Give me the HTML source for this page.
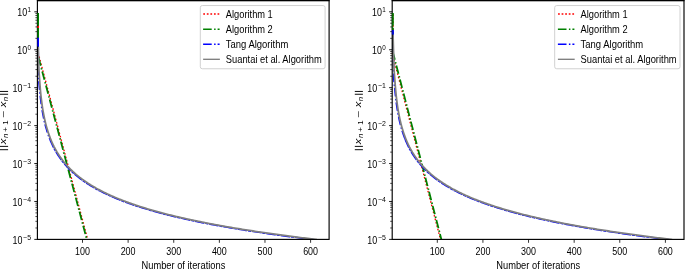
<!DOCTYPE html>
<html><head><meta charset="utf-8"><title>Convergence plots</title>
<style>
html,body{margin:0;padding:0;background:#fff;}
body{width:685px;height:269px;overflow:hidden;font-family:"Liberation Sans",sans-serif;}
#wrap{width:685px;height:269px;overflow:hidden;will-change:transform;}
svg{display:block;}
text{font-family:"Liberation Sans",sans-serif;fill:#000;}
</style></head><body>
<div id="wrap">
<svg width="685" height="269" viewBox="0 0 685 269">
<g>
<clipPath id="clip0"><rect x="36.9" y="0.5" width="292.20000000000005" height="238.9"/></clipPath>
<g stroke="#000" fill="none">
<path d="M34.30,239.40H37.4" stroke-width="0.9"/>
<path d="M35.40,227.98H37.4" stroke-width="0.7"/>
<path d="M35.40,221.30H37.4" stroke-width="0.7"/>
<path d="M35.40,216.56H37.4" stroke-width="0.7"/>
<path d="M35.40,212.89H37.4" stroke-width="0.7"/>
<path d="M35.40,209.88H37.4" stroke-width="0.7"/>
<path d="M35.40,207.35H37.4" stroke-width="0.7"/>
<path d="M35.40,205.15H37.4" stroke-width="0.7"/>
<path d="M35.40,203.21H37.4" stroke-width="0.7"/>
<path d="M34.30,201.47H37.4" stroke-width="0.9"/>
<path d="M35.40,190.05H37.4" stroke-width="0.7"/>
<path d="M35.40,183.37H37.4" stroke-width="0.7"/>
<path d="M35.40,178.63H37.4" stroke-width="0.7"/>
<path d="M35.40,174.96H37.4" stroke-width="0.7"/>
<path d="M35.40,171.95H37.4" stroke-width="0.7"/>
<path d="M35.40,169.42H37.4" stroke-width="0.7"/>
<path d="M35.40,167.22H37.4" stroke-width="0.7"/>
<path d="M35.40,165.28H37.4" stroke-width="0.7"/>
<path d="M34.30,163.54H37.4" stroke-width="0.9"/>
<path d="M35.40,152.12H37.4" stroke-width="0.7"/>
<path d="M35.40,145.44H37.4" stroke-width="0.7"/>
<path d="M35.40,140.70H37.4" stroke-width="0.7"/>
<path d="M35.40,137.03H37.4" stroke-width="0.7"/>
<path d="M35.40,134.02H37.4" stroke-width="0.7"/>
<path d="M35.40,131.49H37.4" stroke-width="0.7"/>
<path d="M35.40,129.29H37.4" stroke-width="0.7"/>
<path d="M35.40,127.35H37.4" stroke-width="0.7"/>
<path d="M34.30,125.61H37.4" stroke-width="0.9"/>
<path d="M35.40,114.19H37.4" stroke-width="0.7"/>
<path d="M35.40,107.51H37.4" stroke-width="0.7"/>
<path d="M35.40,102.77H37.4" stroke-width="0.7"/>
<path d="M35.40,99.10H37.4" stroke-width="0.7"/>
<path d="M35.40,96.09H37.4" stroke-width="0.7"/>
<path d="M35.40,93.56H37.4" stroke-width="0.7"/>
<path d="M35.40,91.36H37.4" stroke-width="0.7"/>
<path d="M35.40,89.42H37.4" stroke-width="0.7"/>
<path d="M34.30,87.68H37.4" stroke-width="0.9"/>
<path d="M35.40,76.26H37.4" stroke-width="0.7"/>
<path d="M35.40,69.58H37.4" stroke-width="0.7"/>
<path d="M35.40,64.84H37.4" stroke-width="0.7"/>
<path d="M35.40,61.17H37.4" stroke-width="0.7"/>
<path d="M35.40,58.16H37.4" stroke-width="0.7"/>
<path d="M35.40,55.63H37.4" stroke-width="0.7"/>
<path d="M35.40,53.43H37.4" stroke-width="0.7"/>
<path d="M35.40,51.49H37.4" stroke-width="0.7"/>
<path d="M34.30,49.75H37.4" stroke-width="0.9"/>
<path d="M35.40,38.33H37.4" stroke-width="0.7"/>
<path d="M35.40,31.65H37.4" stroke-width="0.7"/>
<path d="M35.40,26.91H37.4" stroke-width="0.7"/>
<path d="M35.40,23.24H37.4" stroke-width="0.7"/>
<path d="M35.40,20.23H37.4" stroke-width="0.7"/>
<path d="M35.40,17.70H37.4" stroke-width="0.7"/>
<path d="M35.40,15.50H37.4" stroke-width="0.7"/>
<path d="M35.40,13.56H37.4" stroke-width="0.7"/>
<path d="M34.30,11.82H37.4" stroke-width="0.9"/>
<path d="M82.50,239.4V242.80" stroke-width="0.8"/>
<path d="M128.12,239.4V242.80" stroke-width="0.8"/>
<path d="M173.74,239.4V242.80" stroke-width="0.8"/>
<path d="M219.36,239.4V242.80" stroke-width="0.8"/>
<path d="M264.98,239.4V242.80" stroke-width="0.8"/>
<path d="M310.60,239.4V242.80" stroke-width="0.8"/>
</g>
<g clip-path="url(#clip0)" fill="none" stroke-width="1.5" stroke-linejoin="round">
<path d="M38.25,13.02V56.52" stroke="#ff0000" stroke-dasharray="1.75 1.82" stroke-dashoffset="-1.2"/>
<path d="M38.25,13.02V56.52" stroke="#008000" stroke-dasharray="12.5 2.5 30 2.5"/>
<path d="M39.10,56.52L87.67,239.4" stroke="#ff0000" stroke-width="1.35" stroke-dasharray="1.6 1.97"/>
<path d="M38.25,56.52L86.82,239.4" stroke="#008000" stroke-width="1.8" stroke-dasharray="8.6 2.4 1.5 2.0" stroke-dashoffset="13.5"/>
<path d="M38.25,37.80 L38.45,78.00 L39.65,90.46 L40.11,95.14 L40.57,99.23 L41.02,102.87 L41.48,106.15 L41.94,109.13 L42.39,111.86 L42.85,114.39 L43.30,116.73 L43.76,118.92 L44.22,120.97 L44.67,122.90 L45.13,124.73 L45.59,126.46 L46.04,128.10 L46.50,129.66 L46.95,131.16 L47.41,132.59 L47.87,133.96 L48.32,135.27 L48.78,136.53 L49.24,137.75 L49.69,138.93" stroke="#0000ff" stroke-dasharray="8.6 2.4 1.5 2.0"/>
<path d="M49.69,138.93 L50.15,140.06 L50.60,141.16 L51.06,142.22 L51.52,143.24 L51.97,144.24 L52.43,145.21 L52.88,146.15 L53.34,147.06 L53.80,147.95 L54.25,148.82 L54.71,149.66 L55.17,150.48 L55.62,151.29 L56.08,152.07 L56.53,152.83 L56.99,153.58 L57.45,154.31 L57.90,155.03 L58.36,155.73 L58.82,156.41 L59.27,157.09 L59.73,157.74 L60.18,158.39 L60.64,159.02 L61.10,159.64 L61.55,160.25 L62.01,160.85 L62.46,161.44 L62.92,162.02 L63.38,162.58 L63.83,163.14 L64.29,163.69 L64.75,164.23 L65.20,164.76 L66.11,165.80 L67.03,166.80 L67.94,167.78 L68.85,168.72 L69.76,169.65 L70.68,170.54 L71.59,171.41 L72.50,172.26 L73.41,173.09 L74.33,173.90 L75.24,174.69 L76.15,175.46 L77.06,176.21 L77.98,176.95 L78.89,177.67 L79.80,178.37 L80.71,179.06 L81.63,179.73 L82.54,180.40 L83.45,181.05 L84.36,181.68 L85.27,182.31 L86.19,182.92 L87.10,183.52 L88.01,184.11 L88.92,184.69 L89.84,185.26 L90.75,185.82 L91.66,186.37 L92.57,186.91 L93.49,187.45 L94.40,187.97 L95.31,188.49 L96.22,189.00 L97.14,189.50 L98.05,189.99 L98.96,190.48 L99.87,190.96 L100.79,191.43 L101.70,191.89 L102.61,192.35 L103.52,192.81 L104.44,193.25 L105.35,193.69 L106.26,194.13 L107.17,194.56 L108.08,194.98 L109.00,195.40 L109.91,195.81 L110.82,196.22 L111.73,196.62 L112.65,197.02 L113.56,197.41 L114.47,197.80 L115.38,198.19 L116.30,198.57 L117.21,198.94 L118.12,199.31 L119.03,199.68 L119.95,200.04 L120.86,200.40 L121.77,200.76 L122.68,201.11 L123.60,201.46 L124.51,201.80 L125.42,202.14 L126.33,202.48 L127.25,202.81 L128.16,203.14 L129.07,203.47 L130.89,204.11 L132.72,204.74 L134.54,205.36 L136.37,205.97 L138.19,206.57 L140.02,207.16 L141.84,207.73 L143.67,208.30 L145.49,208.86 L147.32,209.40 L149.14,209.94 L150.97,210.47 L152.79,211.00 L154.62,211.51 L156.44,212.02 L158.27,212.51 L160.09,213.00 L161.92,213.49 L163.74,213.96 L165.57,214.43 L167.39,214.90 L169.22,215.35 L171.04,215.80 L172.87,216.25 L174.69,216.69 L176.51,217.12 L178.34,217.55 L180.16,217.97 L181.99,218.38 L183.81,218.80 L185.64,219.20 L187.46,219.60 L189.29,220.00 L191.11,220.39 L192.94,220.78 L194.76,221.16 L196.59,221.54 L198.41,221.91 L200.24,222.28 L202.06,222.65 L203.89,223.01 L205.71,223.37 L207.54,223.72 L209.36,224.07 L211.19,224.42 L213.01,224.76 L214.84,225.10 L216.66,225.43 L218.49,225.77 L220.31,226.10 L222.13,226.42 L223.96,226.74 L225.78,227.06 L227.61,227.38 L229.43,227.69 L231.26,228.00 L233.08,228.31 L234.91,228.62 L236.73,228.92 L238.56,229.22 L240.38,229.51 L242.21,229.81 L244.03,230.10 L245.86,230.39 L247.68,230.67 L249.51,230.96 L251.33,231.24 L253.16,231.52 L254.98,231.79 L256.81,232.07 L258.63,232.34 L260.46,232.61 L262.28,232.88 L264.11,233.14 L265.93,233.40 L267.75,233.67 L269.58,233.93 L271.40,234.18 L273.23,234.44 L275.05,234.69 L276.88,234.94 L278.70,235.19 L280.53,235.44 L282.35,235.68 L284.18,235.93 L286.00,236.17 L287.83,236.41 L289.65,236.65 L291.48,236.89 L293.30,237.12 L295.13,237.35 L296.95,237.59 L298.78,237.82 L300.60,238.04 L302.43,238.27 L304.25,238.50 L306.08,238.72 L307.90,238.94 L309.73,239.16 L311.55,239.38 L313.37,239.60" stroke="#0000ff" stroke-dasharray="9.6 0.9 3.1 0.9"/>
<path d="M38.25,46.70 L38.80,69.00 L39.55,79.51 L40.01,85.79 L40.47,91.07 L40.92,95.61 L41.38,99.61 L41.84,103.17 L42.29,106.38 L42.75,109.31 L43.20,112.00 L43.66,114.48 L44.12,116.80 L44.57,118.96 L45.03,120.98 L45.49,122.89 L45.94,124.70 L46.40,126.41 L46.85,128.03 L47.31,129.58 L47.77,131.06 L48.22,132.48 L48.68,133.84 L49.14,135.14 L49.59,136.40 L50.05,137.61 L50.50,138.77 L50.96,139.90 L51.42,140.99 L51.87,142.04 L52.33,143.06 L52.78,144.05 L53.24,145.02 L53.70,145.95 L54.15,146.86 L54.61,147.74 L55.07,148.60 L55.52,149.44 L55.98,150.26 L56.43,151.06 L56.89,151.84 L57.35,152.60 L57.80,153.35 L58.26,154.07 L58.72,154.79 L59.17,155.48 L59.63,156.17 L60.08,156.83 L60.54,157.49 L61.00,158.13 L61.45,158.76 L61.91,159.38 L62.36,159.99 L62.82,160.59 L63.28,161.17 L63.73,161.75 L64.19,162.31 L64.65,162.87 L65.10,163.41 L66.01,164.48 L66.93,165.52 L67.84,166.52 L68.75,167.49 L69.66,168.43 L70.58,169.35 L71.49,170.25 L72.40,171.12 L73.31,171.96 L74.23,172.79 L75.14,173.60 L76.05,174.38 L76.96,175.15 L77.88,175.90 L78.79,176.64 L79.70,177.35 L80.61,178.06 L81.53,178.74 L82.44,179.42 L83.35,180.08 L84.26,180.73 L85.17,181.36 L86.09,181.98 L87.00,182.60 L87.91,183.20 L88.82,183.79 L89.74,184.37 L90.65,184.93 L91.56,185.49 L92.47,186.04 L93.39,186.59 L94.30,187.12 L95.21,187.64 L96.12,188.16 L97.04,188.67 L97.95,189.17 L98.86,189.66 L99.77,190.14 L100.69,190.62 L101.60,191.09 L102.51,191.56 L103.42,192.02 L104.34,192.47 L105.25,192.91 L106.16,193.35 L107.07,193.79 L107.98,194.22 L108.90,194.64 L109.81,195.06 L110.72,195.47 L111.63,195.88 L112.55,196.28 L113.46,196.68 L114.37,197.07 L115.28,197.46 L116.20,197.84 L117.11,198.22 L118.02,198.60 L118.93,198.97 L119.85,199.33 L120.76,199.70 L121.67,200.05 L122.58,200.41 L123.50,200.76 L124.41,201.11 L125.32,201.45 L126.23,201.79 L127.15,202.13 L128.06,202.46 L128.97,202.79 L130.79,203.44 L132.62,204.08 L134.44,204.70 L136.27,205.32 L138.09,205.92 L139.92,206.51 L141.74,207.09 L143.57,207.66 L145.39,208.22 L147.22,208.78 L149.04,209.32 L150.87,209.85 L152.69,210.38 L154.52,210.90 L156.34,211.41 L158.17,211.91 L159.99,212.40 L161.82,212.89 L163.64,213.37 L165.47,213.84 L167.29,214.31 L169.12,214.77 L170.94,215.22 L172.77,215.67 L174.59,216.11 L176.41,216.54 L178.24,216.97 L180.06,217.40 L181.89,217.81 L183.71,218.23 L185.54,218.64 L187.36,219.04 L189.19,219.44 L191.01,219.83 L192.84,220.22 L194.66,220.61 L196.49,220.99 L198.31,221.36 L200.14,221.73 L201.96,222.10 L203.79,222.46 L205.61,222.82 L207.44,223.18 L209.26,223.53 L211.09,223.88 L212.91,224.22 L214.74,224.56 L216.56,224.90 L218.39,225.23 L220.21,225.56 L222.03,225.89 L223.86,226.22 L225.68,226.54 L227.51,226.85 L229.33,227.17 L231.16,227.48 L232.98,227.79 L234.81,228.10 L236.63,228.40 L238.46,228.70 L240.28,229.00 L242.11,229.29 L243.93,229.58 L245.76,229.87 L247.58,230.16 L249.41,230.45 L251.23,230.73 L253.06,231.01 L254.88,231.29 L256.71,231.56 L258.53,231.83 L260.36,232.10 L262.18,232.37 L264.01,232.64 L265.83,232.90 L267.65,233.17 L269.48,233.43 L271.30,233.68 L273.13,233.94 L274.95,234.19 L276.78,234.45 L278.60,234.70 L280.43,234.94 L282.25,235.19 L284.08,235.44 L285.90,235.68 L287.73,235.92 L289.55,236.16 L291.38,236.40 L293.20,236.63 L295.03,236.87 L296.85,237.10 L298.68,237.33 L300.50,237.56 L302.33,237.79 L304.15,238.01 L305.98,238.24 L307.80,238.46 L309.63,238.68 L311.45,238.90 L313.27,239.12 L315.10,239.34 L316.92,239.55" stroke="#808080" stroke-width="1.8"/>
</g>
<rect x="37.4" y="0.5" width="291.70" height="238.9" stroke="#000" stroke-width="1.15" fill="none"/>
<path d="M36.9,0.58H329.60" stroke="#000" stroke-width="1.16" fill="none"/>
<g fill="none" stroke-width="1.6" stroke-opacity="1">
<path d="M38.15,26.02V28.02" stroke="#ff0000"/>
<path d="M38.15,13.02V25.52M38.15,28.02V37.8" stroke="#008000"/>
<path d="M38.15,37.8V46.5" stroke="#0000ff"/>
</g>
<text x="22.4" y="243.50" font-size="10.2" text-anchor="end" textLength="9.9" lengthAdjust="spacingAndGlyphs" >10</text>
<text x="31.0" y="239.50" font-size="7.2" text-anchor="end" textLength="7.9" lengthAdjust="spacingAndGlyphs" >−5</text>
<text x="22.4" y="205.57" font-size="10.2" text-anchor="end" textLength="9.9" lengthAdjust="spacingAndGlyphs" >10</text>
<text x="31.0" y="201.57" font-size="7.2" text-anchor="end" textLength="7.9" lengthAdjust="spacingAndGlyphs" >−4</text>
<text x="22.4" y="167.64" font-size="10.2" text-anchor="end" textLength="9.9" lengthAdjust="spacingAndGlyphs" >10</text>
<text x="31.0" y="163.64" font-size="7.2" text-anchor="end" textLength="7.9" lengthAdjust="spacingAndGlyphs" >−3</text>
<text x="22.4" y="129.71" font-size="10.2" text-anchor="end" textLength="9.9" lengthAdjust="spacingAndGlyphs" >10</text>
<text x="31.0" y="125.71" font-size="7.2" text-anchor="end" textLength="7.9" lengthAdjust="spacingAndGlyphs" >−2</text>
<text x="22.4" y="91.78" font-size="10.2" text-anchor="end" textLength="9.9" lengthAdjust="spacingAndGlyphs" >10</text>
<text x="31.0" y="87.78" font-size="7.2" text-anchor="end" textLength="7.9" lengthAdjust="spacingAndGlyphs" >−1</text>
<text x="27.2" y="53.85" font-size="10.2" text-anchor="end" textLength="9.9" lengthAdjust="spacingAndGlyphs" >10</text>
<text x="31.0" y="49.85" font-size="7.2" text-anchor="end" textLength="3.5" lengthAdjust="spacingAndGlyphs" >0</text>
<text x="27.2" y="15.92" font-size="10.2" text-anchor="end" textLength="9.9" lengthAdjust="spacingAndGlyphs" >10</text>
<text x="31.0" y="11.92" font-size="7.2" text-anchor="end" textLength="3.5" lengthAdjust="spacingAndGlyphs" >1</text>
<text x="82.50" y="255.1" font-size="10.2" text-anchor="middle" textLength="14.9" lengthAdjust="spacingAndGlyphs" >100</text>
<text x="128.12" y="255.1" font-size="10.2" text-anchor="middle" textLength="14.9" lengthAdjust="spacingAndGlyphs" >200</text>
<text x="173.74" y="255.1" font-size="10.2" text-anchor="middle" textLength="14.9" lengthAdjust="spacingAndGlyphs" >300</text>
<text x="219.36" y="255.1" font-size="10.2" text-anchor="middle" textLength="14.9" lengthAdjust="spacingAndGlyphs" >400</text>
<text x="264.98" y="255.1" font-size="10.2" text-anchor="middle" textLength="14.9" lengthAdjust="spacingAndGlyphs" >500</text>
<text x="310.60" y="255.1" font-size="10.2" text-anchor="middle" textLength="14.9" lengthAdjust="spacingAndGlyphs" >600</text>
<text x="141.5" y="268.6" font-size="10.2" text-anchor="start" textLength="83.8" lengthAdjust="spacingAndGlyphs" >Number of iterations</text>
<g stroke="#000" stroke-width="0.95" fill="none">
<path d="M0,149.7H8.1"/>
<path d="M0,146.4H8.1"/>
<path d="M0,94.25H8.1"/>
<path d="M0,91.45H8.1"/>
</g>
<g transform="translate(6.25,151.3) rotate(-90) scale(1,0.83)">
<text x="7.0" y="0.00" font-size="10.3" font-style="italic" textLength="5.6" lengthAdjust="spacingAndGlyphs">x</text>
<text x="13.3" y="2.17" font-size="7.8" font-style="italic">n</text>
<text x="19.2" y="2.29" font-size="8.6">+</text>
<text x="26.6" y="2.17" font-size="7.8">1</text>
<text x="33.9" y="0.00" font-size="10.3" textLength="7.2" lengthAdjust="spacingAndGlyphs">−</text>
<text x="44.0" y="0.00" font-size="10.3" font-style="italic" textLength="5.6" lengthAdjust="spacingAndGlyphs">x</text>
<text x="50.0" y="2.17" font-size="7.8" font-style="italic">n</text>
</g>
<rect x="200.3" y="5.55" width="124.80" height="63.2" rx="2" ry="2" fill="#fff" fill-opacity="0.8" stroke="#cccccc" stroke-width="0.9"/>
<g fill="none" stroke-width="1.5">
<path d="M203.25,14.0H220.3" stroke="#ff0000" stroke-dasharray="1.75 1.82"/>
<path d="M203.1,29.2H219.6" stroke="#008000" stroke-dasharray="8.6 2.4 1.5 2.0"/>
<path d="M203.1,44.2H219.6" stroke="#0000ff" stroke-dasharray="8.6 2.4 1.5 2.0"/>
<path d="M203.1,59.3H219.9" stroke="#808080" stroke-width="1.35"/>
</g>
<text x="225.8" y="18.1" font-size="10.2" text-anchor="start" textLength="47.0" lengthAdjust="spacingAndGlyphs" >Algorithm 1</text>
<text x="225.8" y="33.1" font-size="10.2" text-anchor="start" textLength="47.0" lengthAdjust="spacingAndGlyphs" >Algorithm 2</text>
<text x="225.8" y="47.75" font-size="10.2" text-anchor="start" textLength="62.6" lengthAdjust="spacingAndGlyphs" >Tang Algorithm</text>
<text x="225.8" y="62.85" font-size="10.2" text-anchor="start" textLength="96.0" lengthAdjust="spacingAndGlyphs" >Suantai et al. Algorithm</text>
</g>
<g transform="translate(354.8,0)">
<clipPath id="clip1"><rect x="36.9" y="0.5" width="292.20000000000005" height="238.9"/></clipPath>
<g stroke="#000" fill="none">
<path d="M34.30,239.40H37.4" stroke-width="0.9"/>
<path d="M35.40,227.98H37.4" stroke-width="0.7"/>
<path d="M35.40,221.30H37.4" stroke-width="0.7"/>
<path d="M35.40,216.56H37.4" stroke-width="0.7"/>
<path d="M35.40,212.89H37.4" stroke-width="0.7"/>
<path d="M35.40,209.88H37.4" stroke-width="0.7"/>
<path d="M35.40,207.35H37.4" stroke-width="0.7"/>
<path d="M35.40,205.15H37.4" stroke-width="0.7"/>
<path d="M35.40,203.21H37.4" stroke-width="0.7"/>
<path d="M34.30,201.47H37.4" stroke-width="0.9"/>
<path d="M35.40,190.05H37.4" stroke-width="0.7"/>
<path d="M35.40,183.37H37.4" stroke-width="0.7"/>
<path d="M35.40,178.63H37.4" stroke-width="0.7"/>
<path d="M35.40,174.96H37.4" stroke-width="0.7"/>
<path d="M35.40,171.95H37.4" stroke-width="0.7"/>
<path d="M35.40,169.42H37.4" stroke-width="0.7"/>
<path d="M35.40,167.22H37.4" stroke-width="0.7"/>
<path d="M35.40,165.28H37.4" stroke-width="0.7"/>
<path d="M34.30,163.54H37.4" stroke-width="0.9"/>
<path d="M35.40,152.12H37.4" stroke-width="0.7"/>
<path d="M35.40,145.44H37.4" stroke-width="0.7"/>
<path d="M35.40,140.70H37.4" stroke-width="0.7"/>
<path d="M35.40,137.03H37.4" stroke-width="0.7"/>
<path d="M35.40,134.02H37.4" stroke-width="0.7"/>
<path d="M35.40,131.49H37.4" stroke-width="0.7"/>
<path d="M35.40,129.29H37.4" stroke-width="0.7"/>
<path d="M35.40,127.35H37.4" stroke-width="0.7"/>
<path d="M34.30,125.61H37.4" stroke-width="0.9"/>
<path d="M35.40,114.19H37.4" stroke-width="0.7"/>
<path d="M35.40,107.51H37.4" stroke-width="0.7"/>
<path d="M35.40,102.77H37.4" stroke-width="0.7"/>
<path d="M35.40,99.10H37.4" stroke-width="0.7"/>
<path d="M35.40,96.09H37.4" stroke-width="0.7"/>
<path d="M35.40,93.56H37.4" stroke-width="0.7"/>
<path d="M35.40,91.36H37.4" stroke-width="0.7"/>
<path d="M35.40,89.42H37.4" stroke-width="0.7"/>
<path d="M34.30,87.68H37.4" stroke-width="0.9"/>
<path d="M35.40,76.26H37.4" stroke-width="0.7"/>
<path d="M35.40,69.58H37.4" stroke-width="0.7"/>
<path d="M35.40,64.84H37.4" stroke-width="0.7"/>
<path d="M35.40,61.17H37.4" stroke-width="0.7"/>
<path d="M35.40,58.16H37.4" stroke-width="0.7"/>
<path d="M35.40,55.63H37.4" stroke-width="0.7"/>
<path d="M35.40,53.43H37.4" stroke-width="0.7"/>
<path d="M35.40,51.49H37.4" stroke-width="0.7"/>
<path d="M34.30,49.75H37.4" stroke-width="0.9"/>
<path d="M35.40,38.33H37.4" stroke-width="0.7"/>
<path d="M35.40,31.65H37.4" stroke-width="0.7"/>
<path d="M35.40,26.91H37.4" stroke-width="0.7"/>
<path d="M35.40,23.24H37.4" stroke-width="0.7"/>
<path d="M35.40,20.23H37.4" stroke-width="0.7"/>
<path d="M35.40,17.70H37.4" stroke-width="0.7"/>
<path d="M35.40,15.50H37.4" stroke-width="0.7"/>
<path d="M35.40,13.56H37.4" stroke-width="0.7"/>
<path d="M34.30,11.82H37.4" stroke-width="0.9"/>
<path d="M82.50,239.4V242.80" stroke-width="0.8"/>
<path d="M128.12,239.4V242.80" stroke-width="0.8"/>
<path d="M173.74,239.4V242.80" stroke-width="0.8"/>
<path d="M219.36,239.4V242.80" stroke-width="0.8"/>
<path d="M264.98,239.4V242.80" stroke-width="0.8"/>
<path d="M310.60,239.4V242.80" stroke-width="0.8"/>
</g>
<g clip-path="url(#clip1)" fill="none" stroke-width="1.5" stroke-linejoin="round">
<path d="M38.2,13.02V52.62" stroke="#ff0000" stroke-dasharray="1.75 1.82" stroke-dashoffset="-1.2"/>
<path d="M38.2,13.02V52.62" stroke="#008000" stroke-dasharray="12.5 2.5 30 2.5"/>
<path d="M37.30,52.62L85.69,239.4" stroke="#ff0000" stroke-width="1.35" stroke-dasharray="1.6 1.97"/>
<path d="M38.20,52.62L86.59,239.4" stroke="#008000" stroke-width="1.8" stroke-dasharray="8.6 2.4 1.5 2.0" stroke-dashoffset="1.2"/>
<path d="M38.20,30.00 L38.85,78.00 L40.10,90.46 L40.56,95.14 L41.02,99.23 L41.47,102.87 L41.93,106.15 L42.39,109.13 L42.84,111.86 L43.30,114.39 L43.75,116.73 L44.21,118.92 L44.67,120.97 L45.12,122.90 L45.58,124.73 L46.04,126.46 L46.49,128.10 L46.95,129.66 L47.40,131.16 L47.86,132.59 L48.32,133.96 L48.77,135.27 L49.23,136.53 L49.69,137.75 L50.14,138.93" stroke="#0000ff" stroke-dasharray="8.6 2.4 1.5 2.0"/>
<path d="M50.14,138.93 L50.60,140.06 L51.05,141.16 L51.51,142.22 L51.97,143.24 L52.42,144.24 L52.88,145.21 L53.33,146.15 L53.79,147.06 L54.25,147.95 L54.70,148.82 L55.16,149.66 L55.62,150.48 L56.07,151.29 L56.53,152.07 L56.98,152.83 L57.44,153.58 L57.90,154.31 L58.35,155.03 L58.81,155.73 L59.27,156.41 L59.72,157.09 L60.18,157.74 L60.63,158.39 L61.09,159.02 L61.55,159.64 L62.00,160.25 L62.46,160.85 L62.91,161.44 L63.37,162.02 L63.83,162.58 L64.28,163.14 L64.74,163.69 L65.20,164.23 L65.65,164.76 L66.56,165.80 L67.48,166.80 L68.39,167.78 L69.30,168.72 L70.21,169.65 L71.13,170.54 L72.04,171.41 L72.95,172.26 L73.86,173.09 L74.78,173.90 L75.69,174.69 L76.60,175.46 L77.51,176.21 L78.43,176.95 L79.34,177.67 L80.25,178.37 L81.16,179.06 L82.08,179.73 L82.99,180.40 L83.90,181.05 L84.81,181.68 L85.72,182.31 L86.64,182.92 L87.55,183.52 L88.46,184.11 L89.37,184.69 L90.29,185.26 L91.20,185.82 L92.11,186.37 L93.02,186.91 L93.94,187.45 L94.85,187.97 L95.76,188.49 L96.67,189.00 L97.59,189.50 L98.50,189.99 L99.41,190.48 L100.32,190.96 L101.24,191.43 L102.15,191.89 L103.06,192.35 L103.97,192.81 L104.89,193.25 L105.80,193.69 L106.71,194.13 L107.62,194.56 L108.53,194.98 L109.45,195.40 L110.36,195.81 L111.27,196.22 L112.18,196.62 L113.10,197.02 L114.01,197.41 L114.92,197.80 L115.83,198.19 L116.75,198.57 L117.66,198.94 L118.57,199.31 L119.48,199.68 L120.40,200.04 L121.31,200.40 L122.22,200.76 L123.13,201.11 L124.05,201.46 L124.96,201.80 L125.87,202.14 L126.78,202.48 L127.70,202.81 L128.61,203.14 L129.52,203.47 L131.34,204.11 L133.17,204.74 L134.99,205.36 L136.82,205.97 L138.64,206.57 L140.47,207.16 L142.29,207.73 L144.12,208.30 L145.94,208.86 L147.77,209.40 L149.59,209.94 L151.42,210.47 L153.24,211.00 L155.07,211.51 L156.89,212.02 L158.72,212.51 L160.54,213.00 L162.37,213.49 L164.19,213.96 L166.02,214.43 L167.84,214.90 L169.67,215.35 L171.49,215.80 L173.32,216.25 L175.14,216.69 L176.96,217.12 L178.79,217.55 L180.61,217.97 L182.44,218.38 L184.26,218.80 L186.09,219.20 L187.91,219.60 L189.74,220.00 L191.56,220.39 L193.39,220.78 L195.21,221.16 L197.04,221.54 L198.86,221.91 L200.69,222.28 L202.51,222.65 L204.34,223.01 L206.16,223.37 L207.99,223.72 L209.81,224.07 L211.64,224.42 L213.46,224.76 L215.29,225.10 L217.11,225.43 L218.94,225.77 L220.76,226.10 L222.58,226.42 L224.41,226.74 L226.23,227.06 L228.06,227.38 L229.88,227.69 L231.71,228.00 L233.53,228.31 L235.36,228.62 L237.18,228.92 L239.01,229.22 L240.83,229.51 L242.66,229.81 L244.48,230.10 L246.31,230.39 L248.13,230.67 L249.96,230.96 L251.78,231.24 L253.61,231.52 L255.43,231.79 L257.26,232.07 L259.08,232.34 L260.91,232.61 L262.73,232.88 L264.56,233.14 L266.38,233.40 L268.20,233.67 L270.03,233.93 L271.85,234.18 L273.68,234.44 L275.50,234.69 L277.33,234.94 L279.15,235.19 L280.98,235.44 L282.80,235.68 L284.63,235.93 L286.45,236.17 L288.28,236.41 L290.10,236.65 L291.93,236.89 L293.75,237.12 L295.58,237.35 L297.40,237.59 L299.23,237.82 L301.05,238.04 L302.88,238.27 L304.70,238.50 L306.53,238.72 L308.35,238.94 L310.18,239.16 L312.00,239.38 L313.82,239.60" stroke="#0000ff" stroke-dasharray="9.6 0.9 3.1 0.9"/>
<path d="M38.20,34.50 L39.20,69.00 L40.00,79.51 L40.46,85.79 L40.92,91.07 L41.37,95.61 L41.83,99.61 L42.29,103.17 L42.74,106.38 L43.20,109.31 L43.65,112.00 L44.11,114.48 L44.57,116.80 L45.02,118.96 L45.48,120.98 L45.94,122.89 L46.39,124.70 L46.85,126.41 L47.30,128.03 L47.76,129.58 L48.22,131.06 L48.67,132.48 L49.13,133.84 L49.59,135.14 L50.04,136.40 L50.50,137.61 L50.95,138.77 L51.41,139.90 L51.87,140.99 L52.32,142.04 L52.78,143.06 L53.23,144.05 L53.69,145.02 L54.15,145.95 L54.60,146.86 L55.06,147.74 L55.52,148.60 L55.97,149.44 L56.43,150.26 L56.88,151.06 L57.34,151.84 L57.80,152.60 L58.25,153.35 L58.71,154.07 L59.17,154.79 L59.62,155.48 L60.08,156.17 L60.53,156.83 L60.99,157.49 L61.45,158.13 L61.90,158.76 L62.36,159.38 L62.81,159.99 L63.27,160.59 L63.73,161.17 L64.18,161.75 L64.64,162.31 L65.10,162.87 L65.55,163.41 L66.46,164.48 L67.38,165.52 L68.29,166.52 L69.20,167.49 L70.11,168.43 L71.03,169.35 L71.94,170.25 L72.85,171.12 L73.76,171.96 L74.68,172.79 L75.59,173.60 L76.50,174.38 L77.41,175.15 L78.33,175.90 L79.24,176.64 L80.15,177.35 L81.06,178.06 L81.98,178.74 L82.89,179.42 L83.80,180.08 L84.71,180.73 L85.62,181.36 L86.54,181.98 L87.45,182.60 L88.36,183.20 L89.27,183.79 L90.19,184.37 L91.10,184.93 L92.01,185.49 L92.92,186.04 L93.84,186.59 L94.75,187.12 L95.66,187.64 L96.57,188.16 L97.49,188.67 L98.40,189.17 L99.31,189.66 L100.22,190.14 L101.14,190.62 L102.05,191.09 L102.96,191.56 L103.87,192.02 L104.79,192.47 L105.70,192.91 L106.61,193.35 L107.52,193.79 L108.43,194.22 L109.35,194.64 L110.26,195.06 L111.17,195.47 L112.08,195.88 L113.00,196.28 L113.91,196.68 L114.82,197.07 L115.73,197.46 L116.65,197.84 L117.56,198.22 L118.47,198.60 L119.38,198.97 L120.30,199.33 L121.21,199.70 L122.12,200.05 L123.03,200.41 L123.95,200.76 L124.86,201.11 L125.77,201.45 L126.68,201.79 L127.60,202.13 L128.51,202.46 L129.42,202.79 L131.24,203.44 L133.07,204.08 L134.89,204.70 L136.72,205.32 L138.54,205.92 L140.37,206.51 L142.19,207.09 L144.02,207.66 L145.84,208.22 L147.67,208.78 L149.49,209.32 L151.32,209.85 L153.14,210.38 L154.97,210.90 L156.79,211.41 L158.62,211.91 L160.44,212.40 L162.27,212.89 L164.09,213.37 L165.92,213.84 L167.74,214.31 L169.57,214.77 L171.39,215.22 L173.22,215.67 L175.04,216.11 L176.86,216.54 L178.69,216.97 L180.51,217.40 L182.34,217.81 L184.16,218.23 L185.99,218.64 L187.81,219.04 L189.64,219.44 L191.46,219.83 L193.29,220.22 L195.11,220.61 L196.94,220.99 L198.76,221.36 L200.59,221.73 L202.41,222.10 L204.24,222.46 L206.06,222.82 L207.89,223.18 L209.71,223.53 L211.54,223.88 L213.36,224.22 L215.19,224.56 L217.01,224.90 L218.84,225.23 L220.66,225.56 L222.48,225.89 L224.31,226.22 L226.13,226.54 L227.96,226.85 L229.78,227.17 L231.61,227.48 L233.43,227.79 L235.26,228.10 L237.08,228.40 L238.91,228.70 L240.73,229.00 L242.56,229.29 L244.38,229.58 L246.21,229.87 L248.03,230.16 L249.86,230.45 L251.68,230.73 L253.51,231.01 L255.33,231.29 L257.16,231.56 L258.98,231.83 L260.81,232.10 L262.63,232.37 L264.46,232.64 L266.28,232.90 L268.10,233.17 L269.93,233.43 L271.75,233.68 L273.58,233.94 L275.40,234.19 L277.23,234.45 L279.05,234.70 L280.88,234.94 L282.70,235.19 L284.53,235.44 L286.35,235.68 L288.18,235.92 L290.00,236.16 L291.83,236.40 L293.65,236.63 L295.48,236.87 L297.30,237.10 L299.13,237.33 L300.95,237.56 L302.78,237.79 L304.60,238.01 L306.43,238.24 L308.25,238.46 L310.08,238.68 L311.90,238.90 L313.72,239.12 L315.55,239.34 L317.37,239.55" stroke="#808080" stroke-width="1.8"/>
</g>
<rect x="37.4" y="0.5" width="291.80" height="238.9" stroke="#000" stroke-width="1.15" fill="none"/>
<path d="M36.9,0.58H329.70" stroke="#000" stroke-width="1.16" fill="none"/>
<g fill="none" stroke-width="1.6" stroke-opacity="0.72">
<path d="M37.75,13.02V30.0" stroke="#008000"/>
<path d="M37.75,30.0V34.5" stroke="#0000ff"/>
</g>
<text x="22.4" y="243.50" font-size="10.2" text-anchor="end" textLength="9.9" lengthAdjust="spacingAndGlyphs" >10</text>
<text x="31.0" y="239.50" font-size="7.2" text-anchor="end" textLength="7.9" lengthAdjust="spacingAndGlyphs" >−5</text>
<text x="22.4" y="205.57" font-size="10.2" text-anchor="end" textLength="9.9" lengthAdjust="spacingAndGlyphs" >10</text>
<text x="31.0" y="201.57" font-size="7.2" text-anchor="end" textLength="7.9" lengthAdjust="spacingAndGlyphs" >−4</text>
<text x="22.4" y="167.64" font-size="10.2" text-anchor="end" textLength="9.9" lengthAdjust="spacingAndGlyphs" >10</text>
<text x="31.0" y="163.64" font-size="7.2" text-anchor="end" textLength="7.9" lengthAdjust="spacingAndGlyphs" >−3</text>
<text x="22.4" y="129.71" font-size="10.2" text-anchor="end" textLength="9.9" lengthAdjust="spacingAndGlyphs" >10</text>
<text x="31.0" y="125.71" font-size="7.2" text-anchor="end" textLength="7.9" lengthAdjust="spacingAndGlyphs" >−2</text>
<text x="22.4" y="91.78" font-size="10.2" text-anchor="end" textLength="9.9" lengthAdjust="spacingAndGlyphs" >10</text>
<text x="31.0" y="87.78" font-size="7.2" text-anchor="end" textLength="7.9" lengthAdjust="spacingAndGlyphs" >−1</text>
<text x="27.2" y="53.85" font-size="10.2" text-anchor="end" textLength="9.9" lengthAdjust="spacingAndGlyphs" >10</text>
<text x="31.0" y="49.85" font-size="7.2" text-anchor="end" textLength="3.5" lengthAdjust="spacingAndGlyphs" >0</text>
<text x="27.2" y="15.92" font-size="10.2" text-anchor="end" textLength="9.9" lengthAdjust="spacingAndGlyphs" >10</text>
<text x="31.0" y="11.92" font-size="7.2" text-anchor="end" textLength="3.5" lengthAdjust="spacingAndGlyphs" >1</text>
<text x="82.50" y="255.1" font-size="10.2" text-anchor="middle" textLength="14.9" lengthAdjust="spacingAndGlyphs" >100</text>
<text x="128.12" y="255.1" font-size="10.2" text-anchor="middle" textLength="14.9" lengthAdjust="spacingAndGlyphs" >200</text>
<text x="173.74" y="255.1" font-size="10.2" text-anchor="middle" textLength="14.9" lengthAdjust="spacingAndGlyphs" >300</text>
<text x="219.36" y="255.1" font-size="10.2" text-anchor="middle" textLength="14.9" lengthAdjust="spacingAndGlyphs" >400</text>
<text x="264.98" y="255.1" font-size="10.2" text-anchor="middle" textLength="14.9" lengthAdjust="spacingAndGlyphs" >500</text>
<text x="310.60" y="255.1" font-size="10.2" text-anchor="middle" textLength="14.9" lengthAdjust="spacingAndGlyphs" >600</text>
<text x="141.5" y="268.6" font-size="10.2" text-anchor="start" textLength="83.8" lengthAdjust="spacingAndGlyphs" >Number of iterations</text>
<g stroke="#000" stroke-width="0.95" fill="none">
<path d="M0,149.7H8.1"/>
<path d="M0,146.4H8.1"/>
<path d="M0,94.25H8.1"/>
<path d="M0,91.45H8.1"/>
</g>
<g transform="translate(6.25,151.3) rotate(-90) scale(1,0.83)">
<text x="7.0" y="0.00" font-size="10.3" font-style="italic" textLength="5.6" lengthAdjust="spacingAndGlyphs">x</text>
<text x="13.3" y="2.17" font-size="7.8" font-style="italic">n</text>
<text x="19.2" y="2.29" font-size="8.6">+</text>
<text x="26.6" y="2.17" font-size="7.8">1</text>
<text x="33.9" y="0.00" font-size="10.3" textLength="7.2" lengthAdjust="spacingAndGlyphs">−</text>
<text x="44.0" y="0.00" font-size="10.3" font-style="italic" textLength="5.6" lengthAdjust="spacingAndGlyphs">x</text>
<text x="50.0" y="2.17" font-size="7.8" font-style="italic">n</text>
</g>
<rect x="199.9" y="5.55" width="125.30" height="63.2" rx="2" ry="2" fill="#fff" fill-opacity="0.8" stroke="#cccccc" stroke-width="0.9"/>
<g fill="none" stroke-width="1.5">
<path d="M203.25,14.0H220.3" stroke="#ff0000" stroke-dasharray="1.75 1.82"/>
<path d="M203.1,29.2H219.6" stroke="#008000" stroke-dasharray="8.6 2.4 1.5 2.0"/>
<path d="M203.1,44.2H219.6" stroke="#0000ff" stroke-dasharray="8.6 2.4 1.5 2.0"/>
<path d="M203.1,59.3H219.9" stroke="#808080" stroke-width="1.35"/>
</g>
<text x="225.8" y="18.1" font-size="10.2" text-anchor="start" textLength="47.0" lengthAdjust="spacingAndGlyphs" >Algorithm 1</text>
<text x="225.8" y="33.1" font-size="10.2" text-anchor="start" textLength="47.0" lengthAdjust="spacingAndGlyphs" >Algorithm 2</text>
<text x="225.8" y="47.75" font-size="10.2" text-anchor="start" textLength="62.6" lengthAdjust="spacingAndGlyphs" >Tang Algorithm</text>
<text x="225.8" y="62.85" font-size="10.2" text-anchor="start" textLength="96.0" lengthAdjust="spacingAndGlyphs" >Suantai et al. Algorithm</text>
</g>
</svg>
</div>
</body></html>
